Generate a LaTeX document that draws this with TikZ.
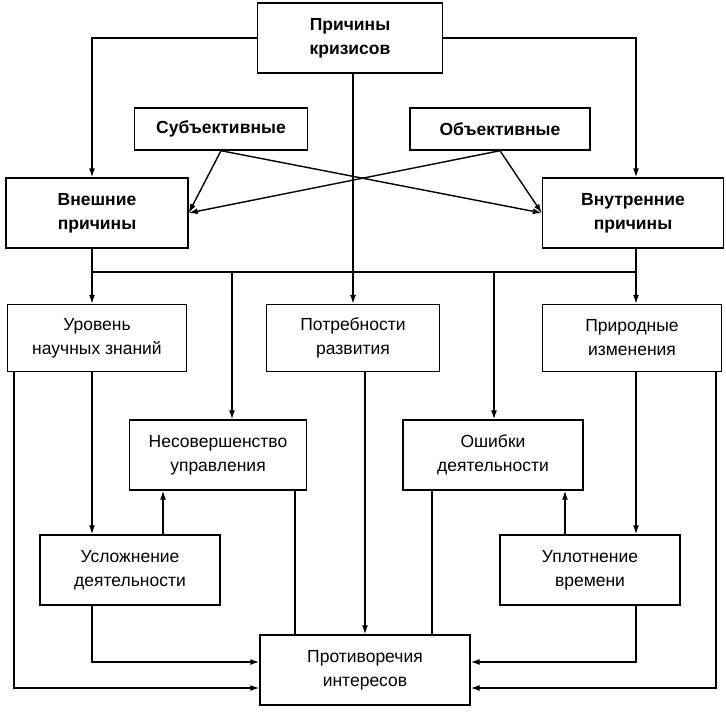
\documentclass[tikz,border=0pt]{standalone}
\usepackage{fontspec}
\setmainfont{Liberation Sans}
\usetikzlibrary{calc,arrows.meta}
\tikzstyle{box}=[draw,rectangle,align=center,inner sep=2pt,font=\fontsize{17.5}{24}\selectfont]
\tikzstyle{bbox}=[box,font=\fontsize{17.5}{24}\selectfont\bfseries]
\begin{document}
\begin{tikzpicture}[x=1pt,y=-1pt,>={Latex[length=9pt,width=6pt]},line width=1.4pt]
	\useasboundingbox (0,0) rectangle (726,713);

	\node[bbox,minimum width=185,minimum height=70] (top) at (350,38) {Причины\\кризисов};
	\node[bbox,minimum width=173,minimum height=42] (subj) at (221,129) {Субъективные};
	\node[bbox,minimum width=180,minimum height=42] (obj) at (500,129) {Объективные};
	\node[bbox,minimum width=182,minimum height=70] (ext) at (97,213) {Внешние\\причины};
	\node[bbox,minimum width=181,minimum height=70] (int) at (633,213) {Внутренние\\причины};

	\node[box,minimum width=179,minimum height=67] (lvl) at (97,338) {Уровень\\научных знаний};
	\node[box,minimum width=173,minimum height=67] (need) at (353,338) {Потребности\\развития};
	\node[box,minimum width=179,minimum height=67] (nat) at (632,338) {Природные\\изменения};
	\node[box,minimum width=177,minimum height=70] (mgmt) at (218,455) {Несовершенство\\управления};
	\node[box,minimum width=180,minimum height=70] (err) at (493,455) {Ошибки\\деятельности};
	\node[box,minimum width=180,minimum height=70] (cplx) at (130,570) {Усложнение\\деятельности};
	\node[box,minimum width=180,minimum height=70] (time) at (590,570) {Уплотнение\\времени};
	\node[box,minimum width=210,minimum height=70] (conf) at (365,670) {Противоречия\\интересов};

	\coordinate (busl) at (92,272);
	\coordinate (busr) at (636,272);

	\draw[->] (top.west) -| (ext.north -| busl);
	\draw[->] (top.east) -| (int.north -| busr);
	\draw[->] (top.south -| need.north) -- (need.north);
	\draw[->] (subj.south) -- (ext.east);
	\draw[->] (subj.south) -- (int.west);
	\draw[->] (obj.south) -- (int.west);
	\draw[->] (obj.south) -- (ext.east);

	\draw (ext.south -| busl) -- (busl) -- (busr) -- (int.south -| busr);
	\draw[->] (busl) -- (lvl.north -| busl);
	\draw[->] (busr) -- (nat.north -| busr);
	\draw[->] (232,272) -- (mgmt.north -| 232,0);
	\draw[->] (494,272) -- (err.north -| 494,0);

	\draw[->] (lvl.south -| busl) -- (cplx.north -| busl);
	\draw[->] (cplx.north -| 163,0) -- (mgmt.south -| 163,0);
	\draw[->] (nat.south -| busr) -- (time.north -| busr);
	\draw[->] (time.north -| 565,0) -- (err.south -| 565,0);

	\draw[->] (lvl.south -| 14,0) |- (conf.west |- 0,688);
	\draw[->] (cplx.south -| busl) |- (conf.west |- 0,662);
	\draw (mgmt.south -| 295,0) -- (conf.north -| 295,0);
	\draw (err.south -| 432,0) -- (conf.north -| 432,0);
	\draw[->] (need.south -| conf.north) -- (conf.north);
	\draw[->] (time.south -| busr) |- (conf.east |- 0,662);
	\draw[->] (nat.south -| 716,0) |- (conf.east |- 0,688);

\end{tikzpicture}
\end{document}
